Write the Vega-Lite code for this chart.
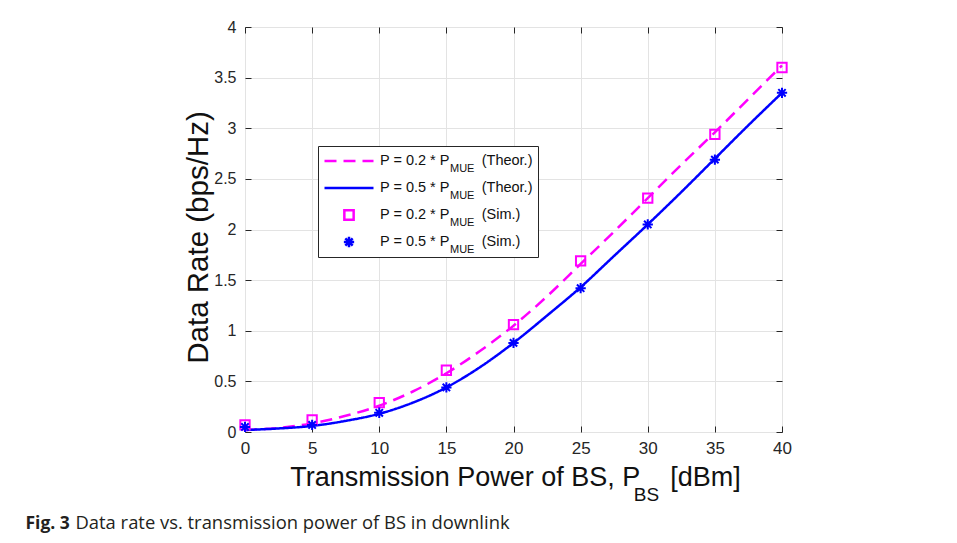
{
  "$schema": "https://vega.github.io/schema/vega-lite/v6.json",
  "width": 537,
  "height": 405,
  "autosize": {"type": "none"},
  "padding": {"left": 245, "top": 27, "right": 175, "bottom": 111},
  "background": "white",
  "datasets": {
    "theor": [
      {"power": 0, "rate": 0.02, "series": "P = 0.2 * P_MUE (Theor.)"},
      {"power": 2.5, "rate": 0.04, "series": "P = 0.2 * P_MUE (Theor.)"},
      {"power": 5, "rate": 0.085, "series": "P = 0.2 * P_MUE (Theor.)"},
      {"power": 7.5, "rate": 0.16, "series": "P = 0.2 * P_MUE (Theor.)"},
      {"power": 10, "rate": 0.26, "series": "P = 0.2 * P_MUE (Theor.)"},
      {"power": 12.5, "rate": 0.4, "series": "P = 0.2 * P_MUE (Theor.)"},
      {"power": 15, "rate": 0.58, "series": "P = 0.2 * P_MUE (Theor.)"},
      {"power": 17.5, "rate": 0.8, "series": "P = 0.2 * P_MUE (Theor.)"},
      {"power": 20, "rate": 1.05, "series": "P = 0.2 * P_MUE (Theor.)"},
      {"power": 22.5, "rate": 1.34, "series": "P = 0.2 * P_MUE (Theor.)"},
      {"power": 25, "rate": 1.66, "series": "P = 0.2 * P_MUE (Theor.)"},
      {"power": 27.5, "rate": 1.98, "series": "P = 0.2 * P_MUE (Theor.)"},
      {"power": 30, "rate": 2.31, "series": "P = 0.2 * P_MUE (Theor.)"},
      {"power": 32.5, "rate": 2.64, "series": "P = 0.2 * P_MUE (Theor.)"},
      {"power": 35, "rate": 2.96, "series": "P = 0.2 * P_MUE (Theor.)"},
      {"power": 37.5, "rate": 3.29, "series": "P = 0.2 * P_MUE (Theor.)"},
      {"power": 40, "rate": 3.62, "series": "P = 0.2 * P_MUE (Theor.)"},
      {"power": 0, "rate": 0.02, "series": "P = 0.5 * P_MUE (Theor.)"},
      {"power": 2.5, "rate": 0.035, "series": "P = 0.5 * P_MUE (Theor.)"},
      {"power": 5, "rate": 0.06, "series": "P = 0.5 * P_MUE (Theor.)"},
      {"power": 7.5, "rate": 0.11, "series": "P = 0.5 * P_MUE (Theor.)"},
      {"power": 10, "rate": 0.18, "series": "P = 0.5 * P_MUE (Theor.)"},
      {"power": 12.5, "rate": 0.29, "series": "P = 0.5 * P_MUE (Theor.)"},
      {"power": 15, "rate": 0.44, "series": "P = 0.5 * P_MUE (Theor.)"},
      {"power": 17.5, "rate": 0.64, "series": "P = 0.5 * P_MUE (Theor.)"},
      {"power": 20, "rate": 0.88, "series": "P = 0.5 * P_MUE (Theor.)"},
      {"power": 22.5, "rate": 1.15, "series": "P = 0.5 * P_MUE (Theor.)"},
      {"power": 25, "rate": 1.43, "series": "P = 0.5 * P_MUE (Theor.)"},
      {"power": 27.5, "rate": 1.74, "series": "P = 0.5 * P_MUE (Theor.)"},
      {"power": 30, "rate": 2.05, "series": "P = 0.5 * P_MUE (Theor.)"},
      {"power": 32.5, "rate": 2.37, "series": "P = 0.5 * P_MUE (Theor.)"},
      {"power": 35, "rate": 2.7, "series": "P = 0.5 * P_MUE (Theor.)"},
      {"power": 37.5, "rate": 3.03, "series": "P = 0.5 * P_MUE (Theor.)"},
      {"power": 40, "rate": 3.35, "series": "P = 0.5 * P_MUE (Theor.)"}
    ],
    "sim": [
      {"power": 0, "rate": 0.07, "series": "P = 0.2 * P_MUE (Sim.)"},
      {"power": 5, "rate": 0.12, "series": "P = 0.2 * P_MUE (Sim.)"},
      {"power": 10, "rate": 0.29, "series": "P = 0.2 * P_MUE (Sim.)"},
      {"power": 15, "rate": 0.61, "series": "P = 0.2 * P_MUE (Sim.)"},
      {"power": 20, "rate": 1.06, "series": "P = 0.2 * P_MUE (Sim.)"},
      {"power": 25, "rate": 1.69, "series": "P = 0.2 * P_MUE (Sim.)"},
      {"power": 30, "rate": 2.31, "series": "P = 0.2 * P_MUE (Sim.)"},
      {"power": 35, "rate": 2.94, "series": "P = 0.2 * P_MUE (Sim.)"},
      {"power": 40, "rate": 3.6, "series": "P = 0.2 * P_MUE (Sim.)"},
      {"power": 0, "rate": 0.05, "series": "P = 0.5 * P_MUE (Sim.)"},
      {"power": 5, "rate": 0.07, "series": "P = 0.5 * P_MUE (Sim.)"},
      {"power": 10, "rate": 0.19, "series": "P = 0.5 * P_MUE (Sim.)"},
      {"power": 15, "rate": 0.44, "series": "P = 0.5 * P_MUE (Sim.)"},
      {"power": 20, "rate": 0.88, "series": "P = 0.5 * P_MUE (Sim.)"},
      {"power": 25, "rate": 1.42, "series": "P = 0.5 * P_MUE (Sim.)"},
      {"power": 30, "rate": 2.05, "series": "P = 0.5 * P_MUE (Sim.)"},
      {"power": 35, "rate": 2.69, "series": "P = 0.5 * P_MUE (Sim.)"},
      {"power": 40, "rate": 3.35, "series": "P = 0.5 * P_MUE (Sim.)"}
    ]
  },
  "layer": [
    {
      "data": {"name": "theor"},
      "mark": {"type": "line", "strokeWidth": 2.5, "interpolate": "monotone"},
      "encoding": {
        "x": {
          "field": "power", "type": "quantitative",
          "scale": {"domain": [0, 40], "nice": false},
          "axis": {
            "orient": "bottom", "values": [0, 5, 10, 15, 20, 25, 30, 35, 40],
            "ticks": false, "domain": false, "grid": true, "gridColor": "#e3e3e3",
            "labelFont": "Liberation Sans", "labelFontSize": 17, "labelColor": "#262626",
            "labelPadding": 8, "labelFlush": false,
            "title": "Transmission Power of BS, P\u00a0\u00a0\u00a0\u00a0[dBm]",
            "titleFont": "Liberation Sans", "titleFontSize": 27, "titleFontWeight": "normal",
            "titleColor": "#111111", "titleX": 270, "titleY": 53,
            "titleAlign": "center", "titleBaseline": "alphabetic"
          }
        },
        "y": {
          "field": "rate", "type": "quantitative",
          "scale": {"domain": [0, 4], "nice": false},
          "axis": {
            "orient": "left", "values": [0, 0.5, 1, 1.5, 2, 2.5, 3, 3.5, 4], "format": "~g",
            "ticks": false, "domain": false, "grid": true, "gridColor": "#e3e3e3",
            "labelFont": "Liberation Sans", "labelFontSize": 16, "labelColor": "#262626",
            "labelPadding": 9, "labelFlush": false,
            "title": "Data Rate (bps/Hz)",
            "titleFont": "Liberation Sans", "titleFontSize": 29.5, "titleFontWeight": "normal",
            "titleColor": "#111111", "titleX": -38, "titleY": 210, "titleAngle": -90,
            "titleAlign": "center", "titleBaseline": "alphabetic"
          }
        },
        "color": {
          "field": "series", "type": "nominal",
          "scale": {
            "domain": ["P = 0.2 * P_MUE (Theor.)", "P = 0.5 * P_MUE (Theor.)", "P = 0.2 * P_MUE (Sim.)", "P = 0.5 * P_MUE (Sim.)"],
            "range": ["#ff00ff", "#0000ff", "#ff00ff", "#0000ff"]
          },
          "legend": {
            "title": null, "orient": "none", "legendX": 73, "legendY": 119,
            "padding": 5, "fillColor": "white", "strokeColor": "#262626",
            "symbolSize": 2401, "symbolStrokeWidth": 2.5, "clipHeight": 20, "rowPadding": 7,
            "labelOffset": 5, "labelFont": "Liberation Sans", "labelFontSize": 14.5,
            "labelColor": "#111111", "labelLimit": 400,
            "labelExpr": "replace(datum.label, '_MUE', '\u00a0\u00a0\u00a0\u00a0\u00a0\u00a0\u00a0')"
          }
        },
        "strokeDash": {
          "field": "series", "type": "nominal",
          "scale": {
            "domain": ["P = 0.2 * P_MUE (Theor.)", "P = 0.5 * P_MUE (Theor.)", "P = 0.2 * P_MUE (Sim.)", "P = 0.5 * P_MUE (Sim.)"],
            "range": [[12, 7], [1, 0], [1, 0], [1, 0]]
          },
          "legend": {
            "title": null, "orient": "none", "legendX": 73, "legendY": 119,
            "padding": 5, "fillColor": "white", "strokeColor": "#262626",
            "symbolSize": 2401, "symbolStrokeWidth": 2.5, "clipHeight": 20, "rowPadding": 7,
            "labelOffset": 5, "labelFont": "Liberation Sans", "labelFontSize": 14.5,
            "labelColor": "#111111", "labelLimit": 400,
            "labelExpr": "replace(datum.label, '_MUE', '\u00a0\u00a0\u00a0\u00a0\u00a0\u00a0\u00a0')"
          }
        }
      }
    },
    {
      "data": {"name": "sim"},
      "mark": {"type": "point", "filled": false, "size": 2401, "strokeWidth": 2, "opacity": 1},
      "encoding": {
        "x": {
          "field": "power", "type": "quantitative",
          "axis": {
            "orient": "top", "values": [0, 5, 10, 15, 20, 25, 30, 35, 40],
            "labels": false, "ticks": true, "tickSize": -6, "tickColor": "#262626",
            "domain": false, "grid": false, "title": null
          }
        },
        "y": {
          "field": "rate", "type": "quantitative",
          "axis": {
            "orient": "right", "values": [0, 0.5, 1, 1.5, 2, 2.5, 3, 3.5, 4],
            "labels": false, "ticks": true, "tickSize": -6, "tickColor": "#262626",
            "domain": false, "grid": false,
            "title": "Fig. 3", "titleFont": "Open Sans", "titleFontSize": 17.5,
            "titleFontWeight": "bold", "titleColor": "#231f20", "titleAngle": 0,
            "titleX": -757, "titleY": 501, "titleAlign": "left", "titleBaseline": "alphabetic"
          }
        },
        "color": {
          "field": "series", "type": "nominal",
          "scale": {
            "domain": ["P = 0.2 * P_MUE (Theor.)", "P = 0.5 * P_MUE (Theor.)", "P = 0.2 * P_MUE (Sim.)", "P = 0.5 * P_MUE (Sim.)"],
            "range": ["#ff00ff", "#0000ff", "#ff00ff", "#0000ff"]
          },
          "legend": {
            "title": null, "orient": "none", "legendX": 73, "legendY": 119,
            "padding": 5, "fillColor": "white", "strokeColor": "#262626",
            "symbolSize": 2401, "symbolStrokeWidth": 2.5, "clipHeight": 20, "rowPadding": 7,
            "labelOffset": 5, "labelFont": "Liberation Sans", "labelFontSize": 14.5,
            "labelColor": "#111111", "labelLimit": 400,
            "labelExpr": "replace(datum.label, '_MUE', '\u00a0\u00a0\u00a0\u00a0\u00a0\u00a0\u00a0')"
          }
        },
        "shape": {
          "field": "series", "type": "nominal",
          "scale": {
            "domain": ["P = 0.2 * P_MUE (Theor.)", "P = 0.5 * P_MUE (Theor.)", "P = 0.2 * P_MUE (Sim.)", "P = 0.5 * P_MUE (Sim.)"],
            "range": ["stroke", "stroke", "M-0.19,-0.19H0.19V0.19H-0.19Z", "M-0.21,0H0.21M0,-0.21V0.21M-0.15,-0.15L0.15,0.15M-0.15,0.15L0.15,-0.15"]
          },
          "legend": {
            "title": null, "orient": "none", "legendX": 73, "legendY": 119,
            "padding": 5, "fillColor": "white", "strokeColor": "#262626",
            "symbolSize": 2401, "symbolStrokeWidth": 2.5, "clipHeight": 20, "rowPadding": 7,
            "labelOffset": 5, "labelFont": "Liberation Sans", "labelFontSize": 14.5,
            "labelColor": "#111111", "labelLimit": 400,
            "labelExpr": "replace(datum.label, '_MUE', '\u00a0\u00a0\u00a0\u00a0\u00a0\u00a0\u00a0')"
          }
        }
      }
    },
    {
      "data": {"name": "sim"},
      "mark": {"type": "point", "opacity": 0},
      "encoding": {
        "x": {
          "field": "power", "type": "quantitative",
          "axis": {
            "orient": "bottom", "values": [0, 5, 10, 15, 20, 25, 30, 35, 40],
            "labels": false, "ticks": true, "tickSize": -6, "tickColor": "#262626",
            "domain": false, "grid": false,
            "title": "BS", "titleFont": "Liberation Sans", "titleFontSize": 19,
            "titleFontWeight": "normal", "titleColor": "#111111",
            "titleX": 401, "titleY": 68, "titleAlign": "center", "titleBaseline": "alphabetic"
          }
        },
        "y": {
          "field": "rate", "type": "quantitative",
          "axis": {
            "orient": "left", "values": [0, 0.5, 1, 1.5, 2, 2.5, 3, 3.5, 4],
            "labels": false, "ticks": true, "tickSize": -6, "tickColor": "#262626",
            "domain": false, "grid": false,
            "title": "Data rate vs. transmission power of BS in downlink",
            "titleFont": "Open Sans", "titleFontSize": 18.4, "titleFontWeight": "normal",
            "titleColor": "#231f20", "titleAngle": 0,
            "titleX": -170, "titleY": 501, "titleAlign": "left", "titleBaseline": "alphabetic"
          }
        },
        "size": {
          "field": "series", "type": "nominal",
          "scale": {
            "domain": ["P = 0.2 * P_MUE (Sim.)", "P = 0.5 * P_MUE (Sim.)", "P = 0.2 * P_MUE (Theor.)", "P = 0.5 * P_MUE (Theor.)"],
            "range": [1, 1]
          },
          "legend": {
            "title": null, "orient": "none", "legendX": 189, "legendY": 127,
            "padding": 5, "clipHeight": 20, "rowPadding": 7, "labelOffset": 0,
            "symbolOpacity": 0,
            "labelFont": "Liberation Sans", "labelFontSize": 11, "labelColor": "#111111",
            "labelExpr": "'MUE'"
          }
        }
      }
    }
  ],
  "resolve": {"axis": {"x": "independent", "y": "independent"}},
  "config": {
    "view": {"stroke": "#404040", "strokeWidth": 1},
    "font": "Liberation Sans"
  }
}
